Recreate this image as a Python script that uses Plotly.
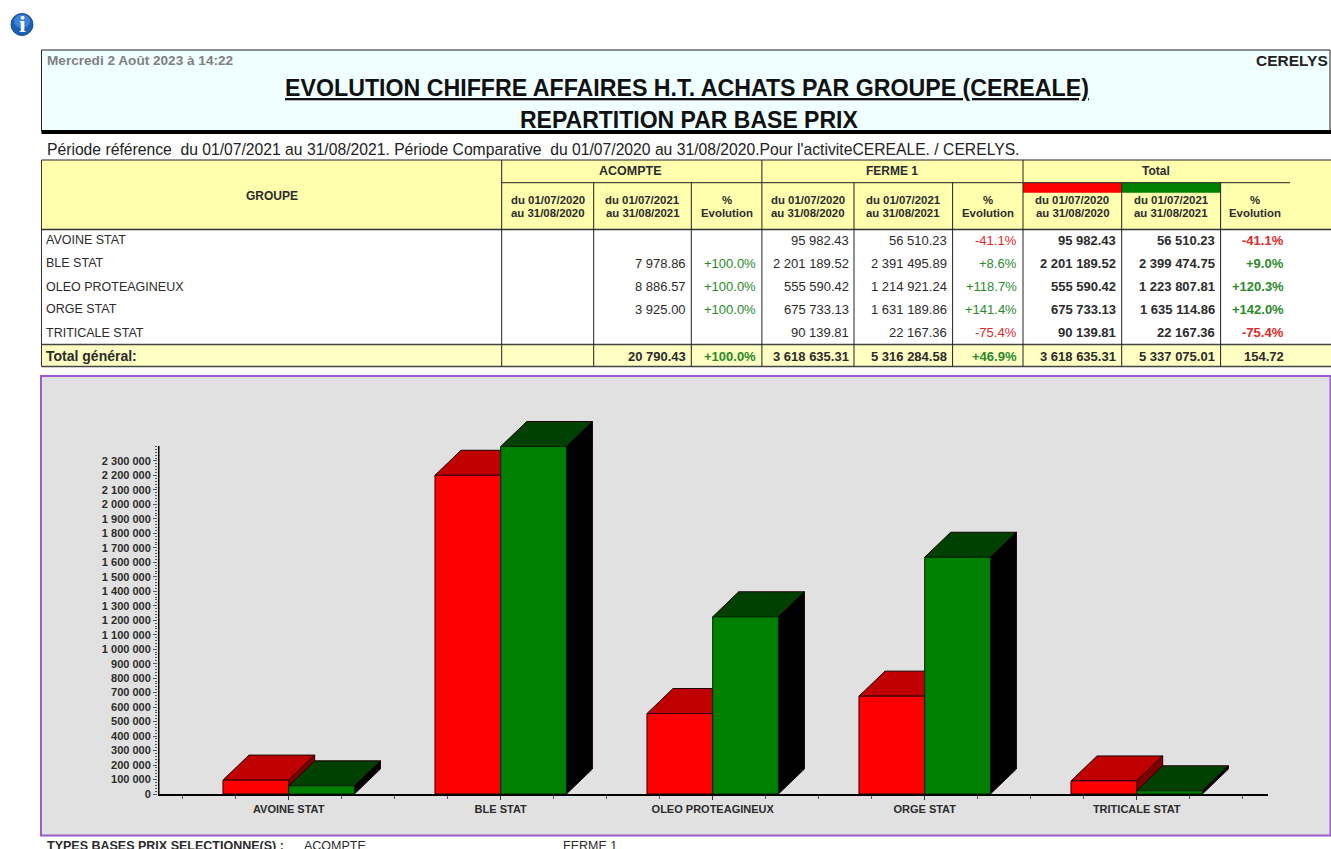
import plotly.graph_objects as go

W, H = 1331, 849
FONT = "Liberation Sans"

# ---------- chart data ----------
CATEGORIES = ["AVOINE STAT", "BLE STAT", "OLEO PROTEAGINEUX", "ORGE STAT", "TRITICALE STAT"]
VALUES_2020 = [95982.43, 2201189.52, 555590.42, 675733.13, 90139.81]
VALUES_2021 = [56510.23, 2399474.75, 1223807.81, 1635114.86, 22167.36]
Y_TICK_VALUES = [0, 100000, 200000, 300000, 400000, 500000, 600000, 700000, 800000, 900000, 1000000,
                 1100000, 1200000, 1300000, 1400000, 1500000, 1600000, 1700000, 1800000, 1900000,
                 2000000, 2100000, 2200000, 2300000]
Y_TICK_LABELS = ["0", "100 000", "200 000", "300 000", "400 000", "500 000", "600 000", "700 000",
                 "800 000", "900 000", "1 000 000", "1 100 000", "1 200 000", "1 300 000", "1 400 000",
                 "1 500 000", "1 600 000", "1 700 000", "1 800 000", "1 900 000", "2 000 000",
                 "2 100 000", "2 200 000", "2 300 000"]
Y_AXIS_END = 2403000

# ---------- table data ----------
ACOMPTE_2021 = ["", "7 978.86", "8 886.57", "3 925.00", ""]
ACOMPTE_PCT = ["", "+100.0%", "+100.0%", "+100.0%", ""]
FERME_2020 = ["95 982.43", "2 201 189.52", "555 590.42", "675 733.13", "90 139.81"]
FERME_2021 = ["56 510.23", "2 391 495.89", "1 214 921.24", "1 631 189.86", "22 167.36"]
FERME_PCT = ["-41.1%", "+8.6%", "+118.7%", "+141.4%", "-75.4%"]
TOTAL_2020 = ["95 982.43", "2 201 189.52", "555 590.42", "675 733.13", "90 139.81"]
TOTAL_2021 = ["56 510.23", "2 399 474.75", "1 223 807.81", "1 635 114.86", "22 167.36"]
TOTAL_PCT = ["-41.1%", "+9.0%", "+120.3%", "+142.0%", "-75.4%"]
FOOT_ROW = ["", "20 790.43", "+100.0%", "3 618 635.31", "5 316 284.58", "+46.9%",
            "3 618 635.31", "5 337 075.01", "154.72"]

# ---------- pixel geometry ----------
PLOT_L, PLOT_R, PLOT_T, PLOT_B = 158, 1268, 400, 794
CAT_PX, CAT0_PX = 212.0, 288.7
Y_PX_PER_UNIT = 144.8 / 1e6
BAR_W = 0.31
DEPTH_X = 26 / CAT_PX
DEPTH_Y = 25 / Y_PX_PER_UNIT
X_RANGE = [(PLOT_L - CAT0_PX) / CAT_PX, (PLOT_R - CAT0_PX) / CAT_PX]
Y_RANGE = [0, (PLOT_B - PLOT_T) / Y_PX_PER_UNIT]


def px(x):
    return x / W


def py(y):
    return 1 - y / H


shapes, annots = [], []


def rect(x0, y0, x1, y1, fill, line=None, lw=1):
    shapes.append(dict(type="rect", xref="paper", yref="paper", x0=px(x0), x1=px(x1), y0=py(y0), y1=py(y1),
                       fillcolor=fill, line=dict(color=line or fill, width=lw if line else 0), layer="below"))


def line(x0, y0, x1, y1, color="#333333", lw=1):
    shapes.append(dict(type="line", xref="paper", yref="paper", x0=px(x0), x1=px(x1), y0=py(y0), y1=py(y1),
                       line=dict(color=color, width=lw), layer="below"))


def text(s, x, y, size=12, color="#2b2b2b", bold=False, anchor="left", font=FONT):
    if not s:
        return
    annots.append(dict(text=f"<b>{s}</b>" if bold else s, xref="paper", yref="paper", x=px(x), y=py(y),
                       xanchor=anchor, yanchor="middle", showarrow=False, borderpad=0, borderwidth=0,
                       font=dict(family=font, size=size, color=color)))


# icon
shapes.append(dict(type="circle", xref="paper", yref="paper", x0=px(11), x1=px(33), y0=py(13.5), y1=py(35.5),
                   fillcolor="#1C5FB5", line=dict(color="#174F9A", width=1), layer="below"))
shapes.append(dict(type="circle", xref="paper", yref="paper", x0=px(14), x1=px(30), y0=py(14.5), y1=py(28),
                   fillcolor="#3E83D6", line=dict(width=0), layer="below"))
text("i", 22, 24.5, size=24, color="#FFFFFF", bold=True, anchor="center", font="Liberation Serif")

# header box
rect(41.5, 50, 1330, 131, "#F0FFFF", "#222222", 1)
rect(41.5, 130, 1331, 134, "#000000")
text("Mercredi 2 Août 2023 à 14:22", 47, 60, size=13.6, color="#808080", bold=True)
text("CERELYS", 1328, 61, size=15.5, color="#222222", bold=True, anchor="right")
text("<u>EVOLUTION CHIFFRE AFFAIRES H.T. ACHATS PAR GROUPE (CEREALE)</u>", 686.5, 88, size=23.2,
     color="#111111", bold=True, anchor="center")
text("REPARTITION PAR BASE PRIX", 688.5, 120, size=23, color="#111111", bold=True, anchor="center")
text("Période référence  du 01/07/2021 au 31/08/2021. Période Comparative  du 01/07/2020 au 31/08/2020."
     "Pour l'activiteCEREALE. / CERELYS.", 47, 149, size=15.7, color="#222222")

# table
HEAD_FILL, FOOT_FILL = "#FFFFAE", "#FFFFC4"
COL_X = [41.5, 501.7, 593.7, 691.3, 761.9, 854, 952.6, 1023, 1121.7, 1220.6]
RIGHT = [None, 589.5, 686, 756.3, 848.5, 946.6, 1017, 1116, 1214.7, 1284.4]
T_TOP, T_MID, T_HEAD, T_FOOT, T_BOT = 160, 182.7, 229.5, 344.5, 366.5
ROW_Y = [240, 263.3, 286.7, 309.3, 332.7]
FOOT_Y = 356
rect(41.5, T_TOP, 1331, T_HEAD, HEAD_FILL)
rect(41.5, T_FOOT, 1331, T_BOT, FOOT_FILL)
rect(COL_X[7], T_MID, COL_X[8], 192.7, "#FF0000")
rect(COL_X[8], T_MID, COL_X[9], 192.7, "#008000")
line(41.5, T_TOP, 1331, T_TOP, "#222222")
line(COL_X[1], T_MID, 1290, T_MID, "#222222")
line(41.5, T_HEAD, 1331, T_HEAD, "#333333", 1.5)
line(41.5, T_FOOT, 1331, T_FOOT, "#444444", 1.5)
line(41.5, T_BOT, 1331, T_BOT, "#444444", 1.5)
line(41.5, T_TOP, 41.5, T_BOT, "#333333")
for i, cx in enumerate(COL_X[1:], start=1):
    top = T_TOP if i in (1, 4, 7) else T_MID
    line(cx, top, cx, T_BOT, "#222222")

text("GROUPE", 271.5, 196, size=12, bold=True, anchor="center")
text("ACOMPTE", 630, 171, size=12.5, bold=True, anchor="center")
text("FERME 1", 892, 171, size=12, bold=True, anchor="center")
text("Total", 1155.7, 171, size=12, bold=True, anchor="center")
SUB_HEADERS = [("du 01/07/2020", "au 31/08/2020"), ("du 01/07/2021", "au 31/08/2021"), ("%", "Evolution")]
SUB_CENTERS = [(547.5, 0), (642.5, 1), (726.5, 2), (807.5, 0), (903, 1), (987.5, 2), (1072, 0), (1171, 1), (1255, 2)]
for cx, k in SUB_CENTERS:
    text(SUB_HEADERS[k][0], cx, 199.5, size=11.4, bold=True, anchor="center")
    text(SUB_HEADERS[k][1], cx, 213, size=11.4, bold=True, anchor="center")


def pct_color(s):
    if s.startswith("+"):
        return "#2A8A2A"
    if s.startswith("-"):
        return "#E02828"
    return "#2b2b2b"


for r, y in enumerate(ROW_Y):
    text(CATEGORIES[r], 46, y, size=12.5)
    text(ACOMPTE_2021[r], RIGHT[2], y, size=13, anchor="right")
    text(ACOMPTE_PCT[r], RIGHT[3], y, size=13, color=pct_color(ACOMPTE_PCT[r]), anchor="right")
    text(FERME_2020[r], RIGHT[4], y, size=13, anchor="right")
    text(FERME_2021[r], RIGHT[5], y, size=13, anchor="right")
    text(FERME_PCT[r], RIGHT[6], y, size=13, color=pct_color(FERME_PCT[r]), anchor="right")
    text(TOTAL_2020[r], RIGHT[7], y, size=13, bold=True, anchor="right")
    text(TOTAL_2021[r], RIGHT[8], y, size=13, bold=True, anchor="right")
    text(TOTAL_PCT[r], RIGHT[9], y, size=13, bold=True, color=pct_color(TOTAL_PCT[r]), anchor="right")
text("Total général:", 46, FOOT_Y, size=14, bold=True)
for k, s in enumerate(FOOT_ROW):
    text(s, RIGHT[k + 1], FOOT_Y, size=13, bold=True, color=pct_color(s), anchor="right")

# chart panel
rect(41, 376, 1330.5, 835.5, "#E1E1E1", "#9B5CD0", 2)

# bottom line, cut by the window edge as in the reference
text("TYPES BASES PRIX SELECTIONNE(S) :", 47, 846, size=12.5, bold=True)
text("ACOMPTE", 304, 846, size=12.5)
text("FERME 1", 563, 846, size=12.5)

# y axis line stops at its own end value, below the top of the plotting area
shapes.append(dict(type="line", xref="x", yref="y", x0=X_RANGE[0], x1=X_RANGE[0], y0=0, y1=Y_AXIS_END,
                   line=dict(color="#000000", width=3), layer="above"))

fig = go.Figure()


def box_faces(values, x_left, top_color, side_color, name):
    """Top and right faces of the 3D bars, placed in axis units from the values."""
    for i, v in enumerate(values):
        xl = i + x_left
        xr = xl + BAR_W
        top = ([xl, xl + DEPTH_X, xr + DEPTH_X, xr, xl], [v, v + DEPTH_Y, v + DEPTH_Y, v, v])
        side = ([xr, xr + DEPTH_X, xr + DEPTH_X, xr, xr], [v, v + DEPTH_Y, DEPTH_Y, 0, v])
        for (xs, ys), col in ((top, top_color), (side, side_color)):
            fig.add_trace(go.Scatter(x=xs, y=ys, mode="lines", fill="toself", fillcolor=col,
                                     line=dict(color="#1a0000", width=1), cliponaxis=False,
                                     hoverinfo="skip", showlegend=False, name=name))


box_faces(VALUES_2020, -BAR_W, "#C00000", "#800000", "2020")
box_faces(VALUES_2021, 0, "#004000", "#000000", "2021")

fig.add_trace(go.Bar(x=list(range(len(CATEGORIES))), y=VALUES_2020, name="du 01/07/2020 au 31/08/2020",
                     marker=dict(color="#FF0000", line=dict(color="#300000", width=1)),
                     xaxis="x2", yaxis="y2", cliponaxis=False, showlegend=False))
fig.add_trace(go.Bar(x=list(range(len(CATEGORIES))), y=VALUES_2021, name="du 01/07/2021 au 31/08/2021",
                     marker=dict(color="#008000", line=dict(color="#002000", width=1)),
                     xaxis="x2", yaxis="y2", cliponaxis=False, showlegend=False))

x_dom = [px(PLOT_L), px(PLOT_R)]
y_dom = [py(PLOT_B), py(PLOT_T)]
tick_font = dict(family=FONT, size=11, color="#2b2b2b", weight=700)
fig.update_layout(
    width=W, height=H, margin=dict(l=0, r=0, t=0, b=0, pad=0, autoexpand=False), autosize=False,
    paper_bgcolor="#FFFFFF", plot_bgcolor="rgba(0,0,0,0)", showlegend=False,
    barmode="group", bargap=1 - 2 * BAR_W, bargroupgap=0,
    shapes=shapes, annotations=annots,
    xaxis=dict(domain=x_dom, range=X_RANGE, tickmode="array", tickvals=list(range(len(CATEGORIES))),
               ticktext=CATEGORIES, tickfont=tick_font, ticks="outside", ticklen=4, tickcolor="#333333",
               showgrid=False, zeroline=False, showline=True, linecolor="#000000", linewidth=2,
               minor=dict(tick0=-0.5, dtick=0.25, ticks="outside", ticklen=3, tickcolor="#555555", showgrid=False)),
    yaxis=dict(domain=y_dom, range=Y_RANGE, tickmode="array", tickvals=Y_TICK_VALUES, ticktext=Y_TICK_LABELS,
               tickfont=tick_font, ticks="outside", ticklen=4, tickcolor="#555555",
               showgrid=False, zeroline=False, showline=False,
               minor=dict(tickmode="array", tickvals=list(range(0, Y_AXIS_END, 20000)), ticks="outside",
                          ticklen=2, tickcolor="#555555", showgrid=False)),
    xaxis2=dict(domain=x_dom, range=X_RANGE, overlaying="x", visible=False),
    yaxis2=dict(domain=y_dom, range=Y_RANGE, overlaying="y", visible=False),
)
fig.write_html("out.html", config={"displayModeBar": False},
               post_script="document.body.style.margin='0';document.body.style.overflow='hidden';")
